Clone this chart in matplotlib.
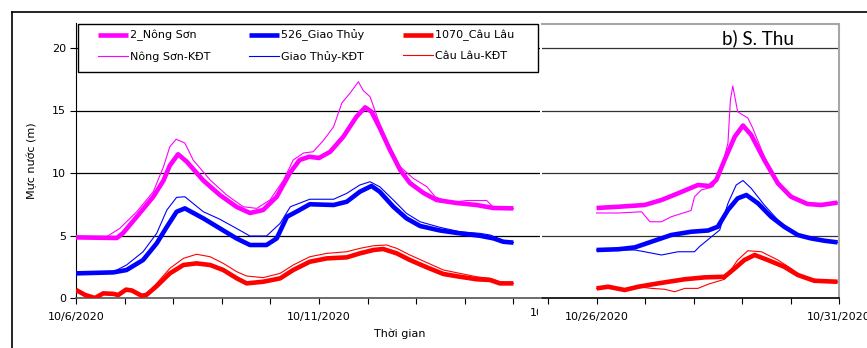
import matplotlib
matplotlib.use("Agg")
import matplotlib.pyplot as plt
from matplotlib.lines import Line2D
from matplotlib.patches import Rectangle
from matplotlib.transforms import Bbox

plt.rcParams['font.family'] = ['DejaVu Sans']

# ---- panel a): days counted from 10/6/2020 ----
ns_d = [0, 0.84, 0.97, 1.25, 1.59, 1.8, 1.93, 2.1, 2.28, 2.62, 2.96, 3.3, 3.58, 3.85, 4.13, 4.4, 4.6,
        4.8, 5.0, 5.23, 5.5, 5.77, 5.95, 6.08, 6.25, 6.46, 6.67, 6.87, 7.15, 7.42, 7.83, 8.24, 8.59, 9.0]
ns_v = [4.85, 4.8, 5.2, 6.5, 8.1, 9.4, 10.6, 11.5, 10.9, 9.4, 8.24, 7.3, 6.8, 7.04, 8.1, 10.0, 11.04,
        11.3, 11.2, 11.7, 12.9, 14.5, 15.25, 14.9, 13.6, 11.84, 10.24, 9.2, 8.4, 7.84, 7.6, 7.44, 7.2, 7.17]
nsk_d = [0, 0.63, 0.9, 1.25, 1.59, 1.8, 1.93, 2.06, 2.24, 2.41, 2.76, 3.1, 3.44, 3.72, 3.99, 4.27, 4.47,
         4.68, 4.88, 5.09, 5.3, 5.47, 5.64, 5.81, 5.91, 6.05, 6.22, 6.39, 6.67, 6.94, 7.22, 7.39, 7.7,
         8.04, 8.45, 8.59, 9.0]
nsk_v = [4.9, 4.9, 5.57, 6.9, 8.5, 10.5, 12.1, 12.7, 12.4, 11.04, 9.44, 8.24, 7.3, 7.17, 7.84, 9.44, 11.04,
         11.6, 11.7, 12.6, 13.7, 15.6, 16.4, 17.3, 16.6, 16.1, 14.24, 12.64, 10.5, 9.57, 8.9, 8.1, 7.63,
         7.8, 7.8, 7.25, 7.17]
gt_d = [0, 0.77, 1.04, 1.38, 1.66, 1.87, 2.07, 2.24, 2.62, 2.96, 3.3, 3.58, 3.92, 4.13, 4.34, 4.6, 4.81,
        5.3, 5.57, 5.84, 6.08, 6.25, 6.53, 6.8, 7.08, 7.49, 7.9, 8.31, 8.59, 8.79, 9.0]
gt_v = [1.97, 2.05, 2.24, 3.04, 4.37, 5.7, 6.9, 7.17, 6.37, 5.57, 4.77, 4.24, 4.24, 4.77, 6.5, 7.04, 7.5,
        7.44, 7.7, 8.5, 8.96, 8.5, 7.3, 6.37, 5.76, 5.4, 5.17, 4.98, 4.77, 4.5, 4.43]
gtk_d = [0, 0.77, 1.04, 1.38, 1.66, 1.87, 2.07, 2.24, 2.62, 2.96, 3.3, 3.58, 3.92, 4.2, 4.41, 4.81, 5.3,
         5.57, 5.84, 6.05, 6.25, 6.53, 6.8, 7.08, 7.49, 7.9, 8.31, 8.52, 8.79, 9.0]
gtk_v = [2.1, 2.1, 2.64, 3.7, 5.17, 7.04, 8.05, 8.1, 6.9, 6.3, 5.57, 4.96, 4.96, 5.97, 7.3, 7.9, 7.9,
         8.37, 9.04, 9.3, 8.9, 7.84, 6.77, 6.1, 5.65, 5.3, 5.17, 5.04, 4.6, 4.43]
cl_d = [0, 0.19, 0.39, 0.56, 0.77, 0.87, 1.03, 1.15, 1.35, 1.45, 1.66, 1.93, 2.21, 2.48, 2.76, 3.03, 3.31,
        3.51, 3.85, 4.2, 4.47, 4.81, 5.16, 5.57, 5.84, 6.12, 6.32, 6.6, 6.87, 7.22, 7.56, 7.9, 8.24, 8.52,
        8.72, 9.0]
cl_v = [0.64, 0.24, 0.0, 0.37, 0.33, 0.24, 0.67, 0.6, 0.18, 0.25, 0.95, 1.97, 2.64, 2.77, 2.64, 2.24, 1.57,
        1.17, 1.3, 1.57, 2.24, 2.9, 3.17, 3.25, 3.57, 3.84, 3.92, 3.57, 3.04, 2.45, 1.92, 1.7, 1.5, 1.44,
        1.17, 1.17]
clk_d = [0, 0.19, 0.39, 0.56, 0.77, 0.87, 1.03, 1.15, 1.35, 1.45, 1.66, 1.93, 2.21, 2.48, 2.76, 3.03, 3.31,
         3.51, 3.85, 4.2, 4.47, 4.81, 5.16, 5.57, 5.84, 6.12, 6.39, 6.6, 6.87, 7.22, 7.56, 7.9, 8.24, 8.52,
         8.72, 9.0]
clk_v = [0.64, 0.24, 0.0, 0.37, 0.33, 0.24, 0.67, 0.6, 0.18, 0.3, 1.17, 2.37, 3.17, 3.5, 3.3, 2.77, 2.1,
         1.76, 1.63, 1.97, 2.64, 3.3, 3.57, 3.7, 3.97, 4.18, 4.24, 3.97, 3.44, 2.83, 2.24, 1.97, 1.7, 1.57,
         1.3, 1.17]

# ---- panel b) S. Thu: days counted from 10/26/2020 ----
ns2_d = [0, 0.45, 0.99, 1.34, 1.68, 2.09, 2.33, 2.47, 2.64, 2.85, 3.02, 3.19, 3.46, 3.74, 4.01, 4.35, 4.63, 4.97]
ns2_v = [7.2, 7.3, 7.44, 7.84, 8.37, 9.04, 8.96, 9.44, 11.04, 12.9, 13.8, 13.04, 11.04, 9.17, 8.1, 7.52, 7.44, 7.63]
ns2k_d = [0, 0.45, 0.93, 1.1, 1.34, 1.54, 1.95, 2.02, 2.16, 2.4, 2.57, 2.71, 2.76, 2.81, 2.91, 3.12, 3.22,
          3.46, 3.74, 4.01, 4.35, 4.63, 4.97]
ns2k_v = [6.8, 6.8, 6.9, 6.1, 6.1, 6.5, 7.0, 8.1, 8.64, 8.9, 10.24, 12.4, 15.84, 16.96, 14.9, 14.4, 13.6,
          11.3, 9.3, 8.16, 7.52, 7.44, 7.63]
gt2_d = [0, 0.45, 0.79, 1.13, 1.54, 1.95, 2.3, 2.5, 2.71, 2.91, 3.09, 3.33, 3.6, 3.87, 4.15, 4.42, 4.7, 4.97]
gt2_v = [3.84, 3.9, 4.05, 4.5, 5.04, 5.3, 5.4, 5.7, 7.04, 7.97, 8.24, 7.57, 6.5, 5.7, 5.04, 4.77, 4.58, 4.45]
gt2k_d = [0, 0.79, 0.99, 1.34, 1.68, 2.02, 2.12, 2.37, 2.54, 2.71, 2.88, 3.02, 3.19, 3.46, 3.74, 4.01,
          4.29, 4.56, 4.97]
gt2k_v = [3.84, 3.84, 3.7, 3.44, 3.7, 3.7, 4.1, 4.9, 5.44, 7.57, 9.04, 9.4, 8.77, 7.44, 6.24, 5.3, 4.9,
          4.69, 4.45]
cl2_d = [0, 0.24, 0.58, 0.86, 1.27, 1.82, 2.23, 2.64, 2.85, 3.05, 3.26, 3.53, 3.87, 4.15, 4.49, 4.97]
cl2_v = [0.77, 0.9, 0.64, 0.9, 1.17, 1.5, 1.65, 1.7, 2.37, 3.04, 3.44, 3.04, 2.5, 1.84, 1.38, 1.3]
cl2k_d = [0, 0.24, 0.58, 0.86, 1.13, 1.4, 1.61, 1.82, 2.09, 2.3, 2.64, 2.91, 3.12, 3.4, 3.74, 4.01, 4.29, 4.97]
cl2k_v = [0.77, 0.9, 0.64, 0.9, 0.77, 0.7, 0.5, 0.77, 0.77, 1.1, 1.5, 3.04, 3.78, 3.7, 3.04, 2.37, 1.57, 1.3]

labels = ['2_Nông Sơn', 'Nông Sơn-KĐT', '526_Giao Thủy', 'Giao Thủy-KĐT', '1070_Câu Lâu', 'Câu Lâu-KĐT']
colors = ['#FF00FF', '#0000FF', '#FF0000']
thick, thin = 3.3, 0.8
fs = 8

W, H = 867, 348
fig = plt.figure(figsize=(W / 100, H / 100), dpi=100)

# outer frame of the left chart
fig.add_artist(Line2D([12 / W, 12 / W], [0, 1 - 12 / H], color='black', lw=1.2))
fig.add_artist(Line2D([12 / W, 1], [1 - 12 / H, 1 - 12 / H], color='black', lw=1.2))

ax1 = fig.add_axes([76 / W, 1 - 298 / H, 464 / W, 275 / H])
ax2 = fig.add_axes([542 / W, 1 - 298 / H, 297 / W, 274 / H])

series_a = [(ns_d, ns_v, nsk_d, nsk_v), (gt_d, gt_v, gtk_d, gtk_v), (cl_d, cl_v, clk_d, clk_v)]
series_b = [(ns2_d, ns2_v, ns2k_d, ns2k_v), (gt2_d, gt2_v, gt2k_d, gt2k_v), (cl2_d, cl2_v, cl2k_d, cl2k_v)]

handles = []
for i, (d, v, dk, vk) in enumerate(series_a):
    h1, = ax1.plot(d, v, color=colors[i], lw=thick, solid_capstyle='butt', zorder=3)
    h2, = ax1.plot(dk, vk, color=colors[i], lw=thin, zorder=4)
    handles += [h1, h2]
for i, (d, v, dk, vk) in enumerate(series_b):
    ax2.plot(d, v, color=colors[i], lw=thick, solid_capstyle='butt', zorder=3)
    ax2.plot(dk, vk, color=colors[i], lw=thin, zorder=4)

# left panel axes
ax1.set_xlim(0, 9.547)
ax1.set_ylim(0, 22)
ax1.set_xticks(range(0, 10))
ax1.set_xticklabels(['10/6/2020', '', '', '', '', '10/11/2020', '', '', '', ''], fontsize=fs)
ax1.set_yticks([0, 5, 10, 15, 20])
ax1.set_yticklabels(['0', '5', '10', '15', '20'], fontsize=fs)
ax1.tick_params(axis='x', direction='out', length=4, pad=6)
ax1.tick_params(axis='y', direction='out', length=4, pad=3)
ax1.grid(axis='y', color='black', lw=0.9)
ax1.set_axisbelow(True)
for s in ['top', 'right']:
    ax1.spines[s].set_visible(False)
ax1.spines['bottom'].set_color('#555555')
ax1.spines['bottom'].set_linewidth(1.2)
ax1.set_ylabel('Mực nước (m)', fontsize=fs)
ax1.yaxis.set_label_coords(-0.083, 0.5)
ax1.set_xlabel('Thời gian', fontsize=fs)
ax1.xaxis.set_label_coords(0.698, -0.11)

# next date label of the left chart, mostly hidden under the right chart
t = ax1.text(10, -0.038, '10/16/2020', transform=ax1.get_xaxis_transform(),
             ha='center', va='top', fontsize=fs)
t.set_clip_box(Bbox.from_extents(0, 0, 538, H))
t.set_clip_on(True)

# legend: frame drawn by hand, entries placed inside it
fig.add_artist(Rectangle((78 / W, 1 - 72 / H), 460 / W, 48 / H, transform=fig.transFigure,
                         facecolor='white', edgecolor='black', lw=1.0, zorder=5))
leg = ax1.legend(handles, labels, ncol=3, loc='upper left',
                 bbox_to_anchor=(98 / W, 1 - 29.5 / H), bbox_transform=fig.transFigure,
                 fontsize=fs, frameon=False, borderaxespad=0, borderpad=0,
                 handlelength=2.7, handletextpad=0.2, labelspacing=0.9, columnspacing=3.45)
leg.set_zorder(6)
fig.legends.append(leg)
ax1.legend_ = None

# right panel axes
ax2.set_xlim(-1.125, 5.0)
ax2.set_ylim(0, 21.92)
ax2.set_xticks(range(-1, 6))
ax2.set_xticklabels(['', '10/26/2020', '', '', '', '', '10/31/2020'], fontsize=fs)
ax2.set_yticks([5, 10, 15, 20])
ax2.tick_params(axis='x', direction='out', length=4, pad=6)
ax2.tick_params(axis='y', left=False, labelleft=False)
ax2.grid(axis='y', color='#333333', lw=0.9)
ax2.set_axisbelow(True)
ax2.spines['left'].set_visible(False)
for s in ['top', 'right']:
    ax2.spines[s].set_color('#A6A6A6')
    ax2.spines[s].set_linewidth(1.5)
ax2.spines['bottom'].set_color('black')
ax2.spines['bottom'].set_linewidth(1.2)
ax2.text(0.606, 0.949, 'b) S. Thu', transform=ax2.transAxes, fontsize=13.5, family='Lato', va='center')

fig.savefig('out.png', dpi=100)
